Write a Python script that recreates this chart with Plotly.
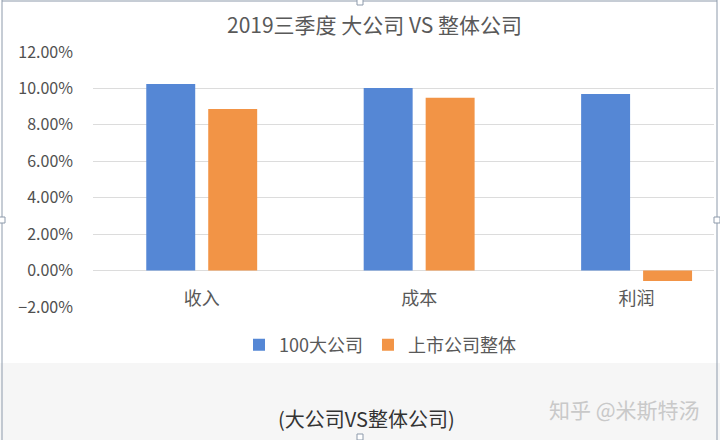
import plotly.graph_objects as go

# ---- data ----
categories = ["收入", "成本", "利润"]
big100 = [0.1025, 0.1003, 0.0970]
listed_all = [0.0887, 0.0949, -0.0057]
series_names = ["100大公司", "上市公司整体"]
y_ticks = [-0.02, 0.0, 0.02, 0.04, 0.06, 0.08, 0.10, 0.12]

title_text = "2019三季度 大公司 VS 整体公司"
caption_text = "(大公司VS整体公司)"
credit_text = "知乎 @米斯特汤"

# ---- layout constants ----
FW, FH = 720, 440
L, R, T, B = 93, 6, 52, 133
W = FW - L - R
H = FH - T - B


def px(x):
    return (x - L) / W


def py(y):
    return (FH - B - y) / H


FONT = "Noto Sans CJK SC"
BLUE = "#5587d5"
ORANGE = "#f29446"
TXT = "#595959"
GRID = "#dcdcdc"

fig = go.Figure()
fig.add_trace(go.Bar(x=categories, y=big100, name=series_names[0],
                     marker=dict(color=BLUE, line=dict(width=0))))
fig.add_trace(go.Bar(x=categories, y=listed_all, name=series_names[1],
                     marker=dict(color=ORANGE, line=dict(width=0))))

ymin, ymax = y_ticks[0], y_ticks[-1]

fig.update_layout(
    width=FW, height=FH,
    margin=dict(l=L, r=R, t=T, b=B, pad=0),
    paper_bgcolor="white", plot_bgcolor="white",
    barmode="group", bargap=0.43, bargroupgap=0.21,
    font=dict(family=FONT, color=TXT),
    showlegend=True,
    legend=dict(orientation="h", x=px(380), xanchor="center",
                y=py(345), yanchor="middle",
                font=dict(size=18, color=TXT, family=FONT),
                bgcolor="rgba(0,0,0,0)", itemwidth=30, tracegroupgap=0),
    xaxis=dict(type="category", range=[-0.5, 2.356], showgrid=False,
               showline=False, zeroline=False, ticks="",
               anchor="free", position=(0 - ymin) / (ymax - ymin),
               tickfont=dict(size=18, color=TXT, family=FONT),
               ticklabelstandoff=15),
    yaxis=dict(range=[ymin, ymax], tickvals=y_ticks, tickformat=".2%",
               showgrid=True, gridcolor=GRID, gridwidth=1,
               zeroline=True, zerolinecolor=GRID, zerolinewidth=1,
               showline=False, ticks="",
               tickfont=dict(size=16, color="#505050", family=FONT),
               ticklabelstandoff=19),
)

shapes = []
# grey band below chart
shapes.append(dict(type="rect", xref="paper", yref="paper",
                   x0=px(0), x1=px(FW), y0=py(FH), y1=py(363),
                   fillcolor="#f6f6f6", line=dict(width=0), layer="below"))
# frame lines of the chart object
frame_col = "#8d9aab"
shapes.append(dict(type="line", xref="paper", yref="paper",
                   x0=px(2), x1=px(2), y0=py(0), y1=py(FH),
                   line=dict(color=frame_col, width=1)))
shapes.append(dict(type="line", xref="paper", yref="paper",
                   x0=px(717), x1=px(717), y0=py(0), y1=py(FH),
                   line=dict(color=frame_col, width=1)))
shapes.append(dict(type="line", xref="paper", yref="paper",
                   x0=px(2), x1=px(717), y0=py(1), y1=py(1),
                   line=dict(color=frame_col, width=1)))
# selection handles
for hx, hy in [(2, 220), (717, 220), (360, 2), (360, 437)]:
    shapes.append(dict(type="rect", xref="paper", yref="paper",
                       x0=px(hx - 3), x1=px(hx + 3), y0=py(hy + 3), y1=py(hy - 3),
                       fillcolor="white", line=dict(color=frame_col, width=1)))
fig.update_layout(shapes=shapes)

fig.add_annotation(text=title_text, xref="paper", yref="paper",
                   x=px(374), y=py(24), xanchor="center", yanchor="middle",
                   showarrow=False, font=dict(size=21, color=TXT, family=FONT))
fig.add_annotation(text=caption_text, xref="paper", yref="paper",
                   x=px(366), y=py(418), xanchor="center", yanchor="middle",
                   showarrow=False, font=dict(size=20, color="#333333", family=FONT))
fig.add_annotation(text=credit_text, xref="paper", yref="paper",
                   x=px(624), y=py(409), xanchor="center", yanchor="middle",
                   showarrow=False, font=dict(size=21, color="#c9c9c9", family=FONT))

fig.write_html("out.html", config={"displayModeBar": False},
               post_script="document.body.style.margin='0';"
                           "document.body.style.overflow='hidden';")
